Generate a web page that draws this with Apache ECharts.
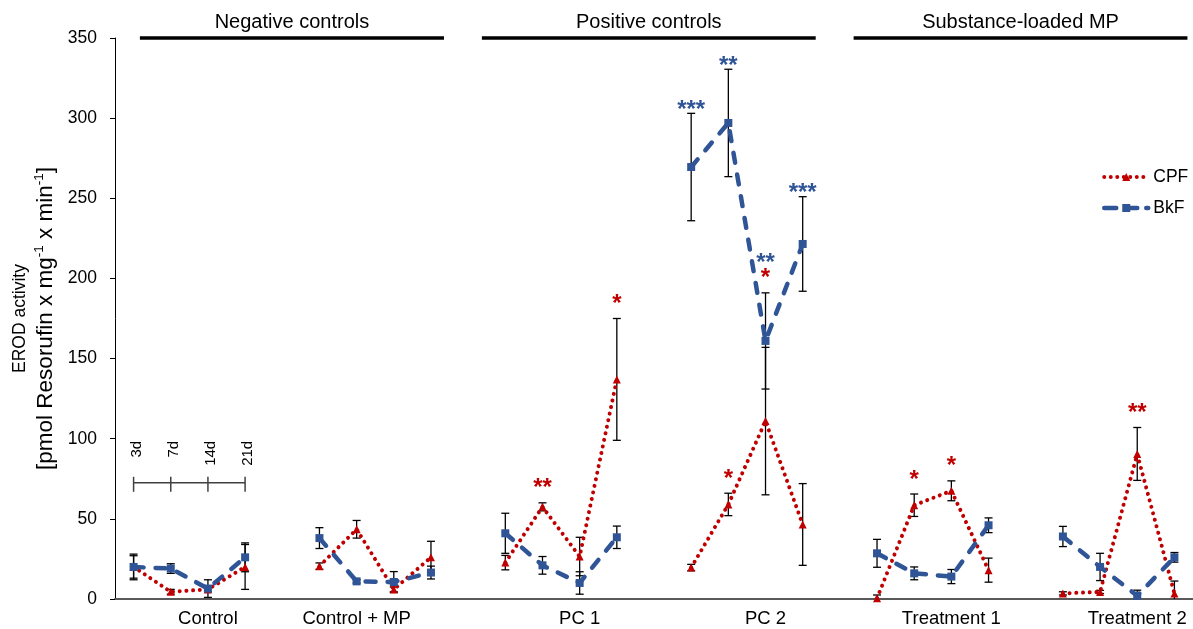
<!DOCTYPE html>
<html><head><meta charset="utf-8">
<script src="https://cdn.jsdelivr.net/npm/echarts@6/dist/echarts.min.js"></script>
<style>html,body{margin:0;padding:0;background:#fff}#c{width:1193px;height:629px}</style>
</head><body><div id="c"></div>
<script>
// ---------- data ----------
const groups = ['Control', 'Control + MP', 'PC 1', 'PC 2', 'Treatment 1', 'Treatment 2'];
const timepoints = ['3d', '7d', '14d', '21d'];
const groupTitles = ['Negative controls', 'Positive controls', 'Substance-loaded MP'];
const titleGroups = [[0, 1], [2, 3], [4, 5]];
const seriesNames = ['CPF', 'BkF'];

// values per group, in timepoint order (3d, 7d, 14d, 21d)
const cpfMean = [20, 4.5, 6, 20,   20.5, 43.5, 6, 26,   22.7, 57.5, 26.5, 137,   19.6, 59, 111, 46.5,   0.5, 58.5, 67.5, 18,   3.5, 4.4, 90.5, 3.5];
const cpfErr  = [7, 1.5, 1.5, 14,  2, 5.5, 1.5, 10,     4.5, 2.5, 12, 38,        2, 7, 46, 25.5,        2, 7, 6.2, 7.5,        1, 1, 16.5, 7.7];
const cpfSig  = ['', '', '', '',   '', '', '', '',      '', '**', '', '*',       '', '*', '*', '',      '', '*', '*', '',      '', '', '**', ''];

const bkfMean = [20, 19, 6.5, 26,  38, 11, 10.6, 16.5,  41, 21, 10, 38.5,        269.5, 297, 161, 221.5, 28.5, 16, 14, 46,     39, 20, 2, 26];
const bkfErr  = [8, 3, 5.5, 9,     6.5, 1, 6.5, 4,      12.5, 5.5, 7, 7,         33.5, 33.5, 30, 29.5,  8.7, 4, 4.4, 4.6,      6.3, 8.5, 3.5, 3];
const bkfSig  = ['', '', '', '',   '', '', '', '',      '', '', '', '',          '***', '**', '**', '***', '', '', '', '',       '', '', '', ''];

// ---------- layout / style ----------
const FONT = 'Liberation Sans, Arial, sans-serif';
const RED = '#C00000', BLUE = '#2F5597';
const LABEL_SLOT = [2, 1, 2, 2, 2, 2];   // which timepoint slot carries the group label
const INSET_LEVEL = 72.5;                // y value of the timepoint key

const SLOTS = groups.length * 5 - 1;
const slotOf = (g, t) => g * 5 + t;
const slotKeys = [];
for (let i = 0; i < SLOTS; i++) slotKeys.push('s' + i);
const labelAt = {};
groups.forEach((g, gi) => { labelAt[slotOf(gi, LABEL_SLOT[gi])] = g; });

function toSlots(arr) {
  const out = new Array(SLOTS).fill('-');
  groups.forEach((g, gi) => timepoints.forEach((t, ti) => { out[slotOf(gi, ti)] = arr[gi * 4 + ti]; }));
  return out;
}
const means = [cpfMean, bkfMean], errs = [cpfErr, bkfErr], sigs = [cpfSig, bkfSig];
const colors = [RED, BLUE];

function errData(si) {
  const d = [];
  means[si].forEach((m, k) => {
    const g = Math.floor(k / 4), t = k % 4;
    d.push([slotOf(g, t), Math.max(0, m - errs[si][k]), m + errs[si][k], m - errs[si][k] < 0 ? 1 : 0]);
  });
  return d;
}

// significance marks: anchored above own error bar, or above the other bar if it overlaps
const sigData = [];
const SIG_OFF = [20, 9];
for (let k = 0; k < cpfMean.length; k++) {
  const g = Math.floor(k / 4), t = k % 4;
  let prevAnchor = null, prevOff = 0;
  [0, 1].forEach(si => {
    if (!sigs[si][k]) return;
    const top = means[si][k] + errs[si][k];
    const o = 1 - si;
    const oLo = means[o][k] - errs[o][k], oHi = means[o][k] + errs[o][k];
    let anchor = (top >= oLo && top <= oHi) ? oHi : top;
    let off = SIG_OFF[si];
    if (prevAnchor !== null && Math.abs(prevAnchor - anchor) < 1e-6) off = prevOff + 15;
    sigData.push([slotOf(g, t), anchor, off, si, sigs[si][k]]);
    prevAnchor = anchor; prevOff = off;
  });
}

const titleData = titleGroups.map((tg, i) => [
  Math.max(0.17, slotOf(tg[0], 0) - 0.63), slotOf(tg[1], 3) + 0.35, i
]);

const chart = echarts.init(document.getElementById('c'), null, { renderer: 'canvas' });

const option = {
  animation: false,
  textStyle: { fontFamily: FONT },
  grid: { left: 115, right: 0, top: 38, bottom: 30 },
  legend: {
    data: [
      { name: 'CPF', lineStyle: { width: 4, type: [0.01, 6.5], cap: 'round', color: RED } },
      { name: 'BkF', lineStyle: { width: 4.5, type: [12, 9], cap: 'round', color: BLUE } }
    ],
    orient: 'vertical', left: 1097, top: 163,
    itemWidth: 44, itemHeight: 10, itemGap: 13,
    textStyle: { fontSize: 17.5, color: '#000', fontFamily: FONT }
  },
  xAxis: [{
    type: 'category', data: slotKeys, boundaryGap: true,
    axisLine: { lineStyle: { color: '#595959', width: 2 } },
    axisTick: { show: false },
    axisLabel: {
      interval: 0, margin: 10, fontSize: 18.5, color: '#000', fontFamily: FONT,
      formatter: (v, i) => labelAt[i] || ''
    }
  }, {
    type: 'value', min: -0.5, max: SLOTS - 0.5, show: false
  }],
  yAxis: {
    type: 'value', min: 0, max: 350, interval: 50,
    axisLine: { show: true, onZero: false, lineStyle: { color: '#000', width: 1 } },
    axisTick: { show: true, length: 5, lineStyle: { color: '#000' } },
    axisLabel: { fontSize: 17.5, color: '#000', margin: 18, fontFamily: FONT },
    splitLine: { show: false },
    name: '{a|EROD activity}\n{b|[pmol Resorufin x mg}{s|-1}{b| x min}{s|-1}{b|]}',
    nameLocation: 'middle', nameGap: 56, nameRotate: 90,
    nameTextStyle: {
      color: '#000', fontFamily: FONT,
      rich: {
        a: { fontSize: 17.5, lineHeight: 24, color: '#000', fontFamily: FONT },
        b: { fontSize: 22.5, lineHeight: 27, color: '#000', fontFamily: FONT },
        s: { fontSize: 13.5, verticalAlign: 'top', lineHeight: 15, color: '#000', fontFamily: FONT }
      }
    }
  },
  series: [
    // error bars
    ...[0, 1].map(si => ({
      type: 'custom', xAxisIndex: 1, z: 1, silent: true,
      data: errData(si),
      renderItem: (params, api) => {
        const x = api.value(0);
        const lo = api.coord([x, api.value(1)]), hi = api.coord([x, api.value(2)]);
        const c = 4, st = { stroke: '#000', lineWidth: 1.3 };
        const ch = [
          { type: 'line', shape: { x1: lo[0], y1: lo[1], x2: hi[0], y2: hi[1] }, style: st },
          { type: 'line', shape: { x1: hi[0] - c, y1: hi[1], x2: hi[0] + c, y2: hi[1] }, style: st }
        ];
        if (!api.value(3)) ch.push({ type: 'line', shape: { x1: lo[0] - c, y1: lo[1], x2: lo[0] + c, y2: lo[1] }, style: st });
        return { type: 'group', children: ch };
      }
    })),
    {
      name: 'CPF', type: 'line', z: 2, data: toSlots(cpfMean), connectNulls: false,
      symbol: 'triangle', symbolSize: 8, color: RED,
      itemStyle: { color: RED },
      lineStyle: { color: RED, width: 4, type: [0.01, 6.7], cap: 'round' }
    },
    {
      name: 'BkF', type: 'line', z: 3, data: toSlots(bkfMean), connectNulls: false,
      symbol: 'rect', symbolSize: 8, color: BLUE,
      itemStyle: { color: BLUE },
      lineStyle: { color: BLUE, width: 4.5, type: [10, 12], cap: 'round' }
    },
    // significance marks
    {
      type: 'custom', xAxisIndex: 1, z: 4, silent: true, data: sigData,
      renderItem: (params, api) => {
        const d = sigData[params.dataIndex];
        const p = api.coord([d[0], d[1]]);
        return {
          type: 'text', x: p[0], y: p[1] - d[2] + 6,
          style: { text: d[4], fill: colors[d[3]], font: 'bold 24px ' + FONT, align: 'center', verticalAlign: 'middle' }
        };
      }
    },
    // group titles with bars
    {
      type: 'custom', xAxisIndex: 1, z: 4, silent: true, clip: false, data: titleData,
      renderItem: (params, api) => {
        const a = api.coord([api.value(0), 350]), b = api.coord([api.value(1), 350]);
        return {
          type: 'group', children: [
            { type: 'line', shape: { x1: a[0], y1: a[1], x2: b[0], y2: b[1] }, style: { stroke: '#000', lineWidth: 3.5 } },
            { type: 'text', x: (a[0] + b[0]) / 2, y: a[1] - 6,
              style: { text: groupTitles[api.value(2)], fill: '#000', font: '20px ' + FONT, align: 'center', verticalAlign: 'bottom' } }
          ]
        };
      }
    },
    // timepoint key
    {
      type: 'custom', xAxisIndex: 1, z: 4, silent: true, clip: false,
      data: timepoints.map((t, i) => [slotOf(0, i), i]),
      renderItem: (params, api) => {
        const i = api.value(1);
        const p = api.coord([api.value(0), INSET_LEVEL]);
        const st = { stroke: '#404040', lineWidth: 1.5 };
        const ch = [
          { type: 'line', shape: { x1: p[0], y1: p[1] - 6, x2: p[0], y2: p[1] + 9 }, style: st },
          { type: 'text', x: p[0] + 3, y: p[1] - 42, rotation: Math.PI / 2,
            style: { text: timepoints[i], fill: '#000', font: '15px ' + FONT, align: 'right', verticalAlign: 'middle' } }
        ];
        if (i < timepoints.length - 1) {
          const q = api.coord([slotOf(0, i + 1), INSET_LEVEL]);
          ch.push({ type: 'line', shape: { x1: p[0], y1: p[1], x2: q[0], y2: q[1] }, style: st });
        }
        return { type: 'group', children: ch };
      }
    }
  ]
};
chart.setOption(option);
</script>
</body></html>
